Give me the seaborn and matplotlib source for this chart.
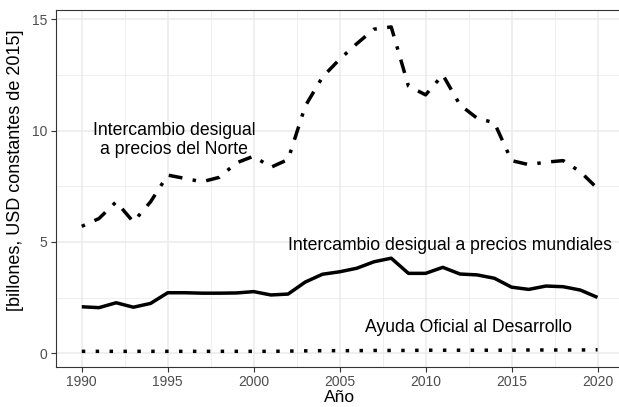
import numpy as np
import pandas as pd
import matplotlib
matplotlib.use("Agg")
import matplotlib.pyplot as plt
import seaborn as sns

years = list(range(1990, 2021))
norte = [5.7, 6.05, 6.8, 5.9, 6.8, 8.0, 7.85, 7.7, 7.9, 8.55,
         8.85, 8.35, 8.7, 11.1, 12.4, 13.2, 13.9, 14.55, 14.65, 12.0,
         11.6, 12.5, 11.15, 10.55, 10.35, 8.65, 8.47, 8.58, 8.65, 8.15, 7.4]
mundiales = [2.09, 2.05, 2.27, 2.07, 2.24, 2.72, 2.72, 2.70, 2.70, 2.71,
             2.77, 2.62, 2.66, 3.20, 3.55, 3.66, 3.82, 4.11, 4.27, 3.59,
             3.59, 3.86, 3.56, 3.52, 3.37, 2.97, 2.87, 3.02, 2.99, 2.84, 2.51]
aod = [0.09, 0.09, 0.09, 0.09, 0.09, 0.09, 0.09, 0.09, 0.09, 0.09,
       0.09, 0.09, 0.10, 0.11, 0.12, 0.12, 0.12, 0.13, 0.13, 0.13,
       0.14, 0.14, 0.14, 0.14, 0.14, 0.14, 0.15, 0.15, 0.15, 0.15, 0.16]

series_names = ["Norte", "Mundiales", "AOD"]
labels = ["Intercambio desigual\na precios del Norte",
          "Intercambio desigual a precios mundiales",
          "Ayuda Oficial al Desarrollo"]
label_x = [1995.35, 2011.4, 2012.5]
label_y = [9.58, 4.86, 1.18]
x_ticks = [1990, 1995, 2000, 2005, 2010, 2015, 2020]
y_ticks = [0, 5, 10, 15]

df = pd.DataFrame({
    "year": years * 3,
    "value": norte + mundiales + aod,
    "serie": ["Norte"] * len(years) + ["Mundiales"] * len(years) + ["AOD"] * len(years),
})

sns.set_theme(style="white")
plt.rcParams["font.family"] = ["Liberation Sans", "DejaVu Sans"]

W, H = 619, 407
fig = plt.figure(figsize=(W / 100, H / 100), dpi=100)
left, right, top, bottom = 56, 623.3, 10, 366.7
ax = fig.add_axes([left / W, (H - bottom) / H, (right - left) / W, (bottom - top) / H])

grid_c = "#EBEBEB"
for v in np.arange(1987.5, 2023, 2.5):
    major = (v % 5 == 0)
    ax.axvline(v, color=grid_c, lw=1.1 if major else 0.55, zorder=0)
for v in np.arange(-2.5, 17.5, 2.5):
    major = (v % 5 == 0)
    ax.axhline(v, color=grid_c, lw=1.1 if major else 0.55, zorder=0)

sns.lineplot(data=df, x="year", y="value", style="serie",
             dashes={"Norte": (1, 3, 4, 3), "Mundiales": "", "AOD": (1, 3)},
             color="black", linewidth=2.5, legend=False, ax=ax, zorder=3)
for ln in ax.get_lines()[-3:]:
    ln.set_solid_capstyle("butt")
    ln.set_dash_capstyle("butt")

for t, x, y in zip(labels, label_x, label_y):
    ax.text(x, y, t, ha="center", va="center", fontsize=12.7,
            color="black", linespacing=1.1, zorder=4)

ax.set_xlim(1988.5, 2021.5)
ax.set_ylim(-0.6, 15.41)
ax.set_xticks(x_ticks)
ax.set_yticks(y_ticks)
ax.tick_params(axis="both", which="major", length=3.5, width=0.8, color="#333333",
               labelsize=10, labelcolor="#4D4D4D", pad=2.5, direction="out",
               bottom=True, left=True)
for s in ax.spines.values():
    s.set_color("#333333")
    s.set_linewidth(0.8)
ax.set_xlabel("Año", fontsize=12.5, color="black", labelpad=1)
ax.set_ylabel("[billones, USD constantes de 2015]", fontsize=13, color="black", labelpad=4)
ax.yaxis.set_label_coords(-0.056, 0.55)
ax.grid(False)

fig.savefig("out.png", dpi=100)
